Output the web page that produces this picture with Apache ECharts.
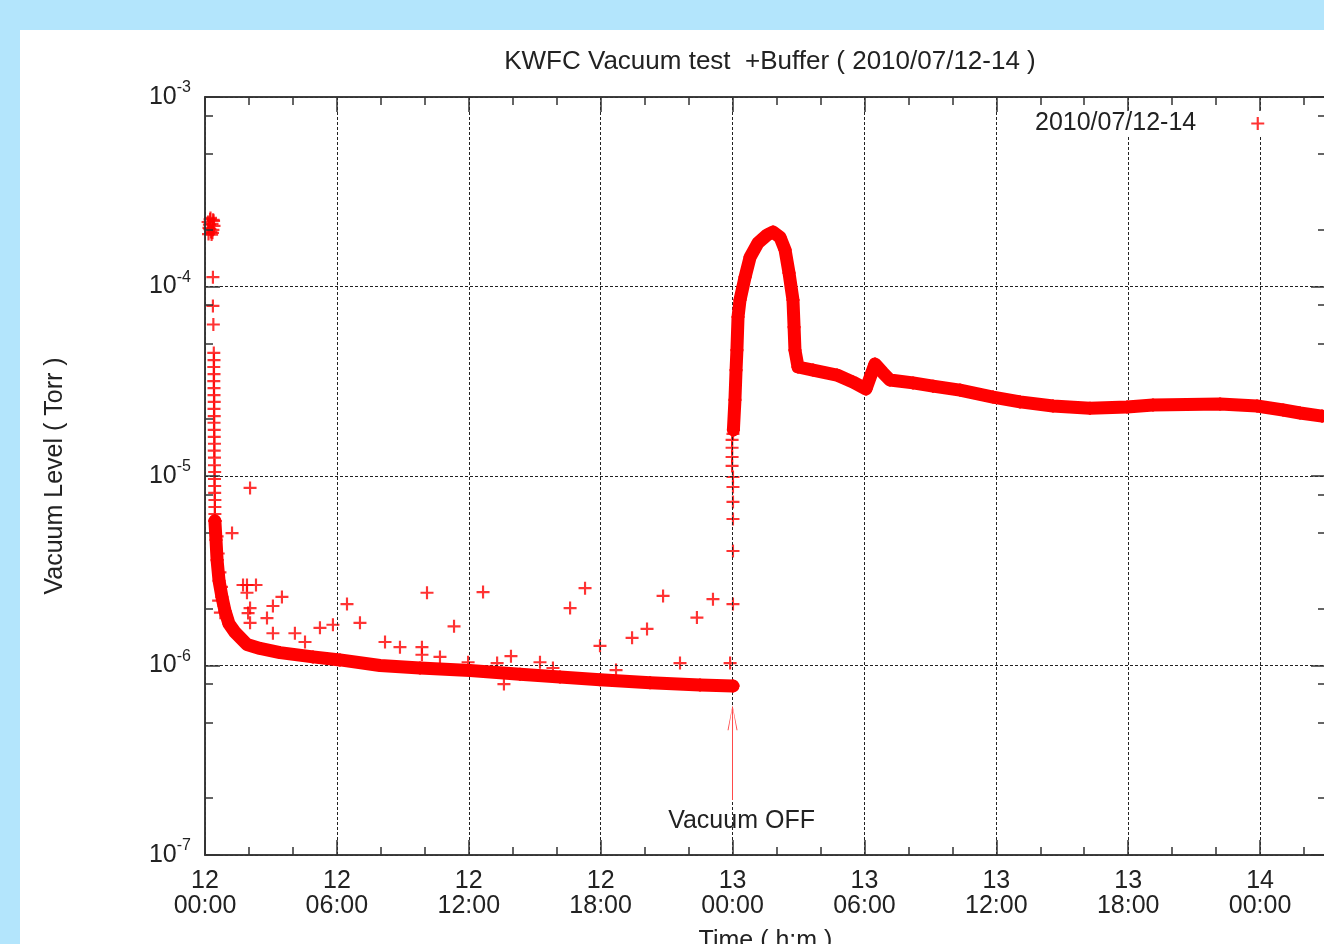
<!DOCTYPE html>
<html>
<head>
<meta charset="utf-8">
<script src="https://cdn.jsdelivr.net/npm/echarts@6.0.0/dist/echarts.min.js"></script>
<style>
html,body{margin:0;padding:0;background:#b3e5fc;}
#c{width:1324px;height:944px;}
</style>
</head>
<body>
<div id="c"></div>
<script>
// ---------- data (time in hours since 2010/07/12 00:00, vacuum in Torr) ----------
const seriesName = '2010/07/12-14';
const xMajorTicks = [0, 6, 12, 18, 24, 30, 36, 42, 48];
const xTickLabels = ['12\n00:00', '12\n06:00', '12\n12:00', '12\n18:00', '13\n00:00', '13\n06:00', '13\n12:00', '13\n18:00', '14\n00:00'];
const xMinorTicks = [2, 4, 8, 10, 14, 16, 20, 22, 26, 28, 32, 34, 38, 40, 44, 46, 50];
const yMajorTicks = [1e-7, 1e-6, 1e-5, 1e-4, 1e-3];
const yTickExponents = ['-7', '-6', '-5', '-4', '-3'];
const yMinorTicks = [2e-7, 5e-7, 8e-7, 2e-6, 5e-6, 8e-6, 2e-5, 5e-5, 8e-5, 2e-4, 5e-4, 8e-4];

// initial cluster and the fast pump-down
const startHours = [0.14, 0.18, 0.23, 0.27, 0.32, 0.36, 0.41, 0.16, 0.25, 0.34, 0.39, 0.20, 0.30, 0.22, 0.37,
  0.36, 0.36, 0.38,
  0.40, 0.41, 0.40, 0.41, 0.40, 0.41, 0.41, 0.42, 0.41, 0.42, 0.41, 0.42, 0.42, 0.43, 0.42, 0.43, 0.43, 0.44, 0.43, 0.44, 0.44, 0.45, 0.45, 0.45, 0.46,
  0.55, 0.60, 0.68, 0.75, 0.62, 0.70];
const startValues = [2.19e-4, 2.04e-4, 2.26e-4, 1.94e-4, 2.14e-4, 1.99e-4, 2.09e-4, 1.89e-4, 2.30e-4, 1.92e-4, 2.22e-4, 2.12e-4, 1.88e-4, 2.01e-4, 2.25e-4,
  1.12e-4, 7.9e-5, 6.3e-5,
  4.46e-5, 4.09e-5, 3.76e-5, 3.45e-5, 3.17e-5, 2.91e-5, 2.67e-5, 2.46e-5, 2.26e-5, 2.07e-5, 1.91e-5, 1.75e-5, 1.61e-5, 1.48e-5, 1.36e-5, 1.25e-5, 1.14e-5, 1.05e-5, 9.64e-6, 8.86e-6, 8.14e-6, 7.47e-6, 6.86e-6, 6.30e-6, 5.79e-6,
  4.8e-6, 3.9e-6, 3.1e-6, 2.6e-6, 2.2e-6, 1.9e-6];

// main band before the pump was switched off
const preHours = [0.45, 0.50, 0.55, 0.64, 0.77, 0.91, 1.09, 1.36, 1.91, 2.50, 3.41, 4.91, 6.14, 7.96, 9.78, 12.06, 14.33, 16.15, 17.97, 20.25, 22.52, 24.02];
const preValues = [5.8e-6, 4.6e-6, 3.6e-6, 2.8e-6, 2.3e-6, 1.94e-6, 1.66e-6, 1.50e-6, 1.29e-6, 1.23e-6, 1.17e-6, 1.11e-6, 1.07e-6, 1.0e-6, 9.7e-7, 9.4e-7, 9.0e-7, 8.7e-7, 8.4e-7, 8.1e-7, 7.9e-7, 7.8e-7];

// scattered readings above / below the band
const outlierHours = [1.23, 2.05, 1.73, 1.91, 2.32, 1.91, 2.05, 3.09, 3.50, 2.82, 2.05, 1.96, 3.09, 4.09, 4.55, 5.23, 5.82, 6.46, 7.05, 8.19, 8.87, 9.87, 9.87, 10.10, 10.69, 11.33, 11.97, 12.65, 13.29, 13.92, 13.60, 15.24, 15.83, 16.61, 17.29, 17.97, 18.70, 19.43, 20.11, 20.84, 21.61, 22.38, 23.11];
const outlierValues = [5.0e-6, 8.65e-6, 2.66e-6, 2.66e-6, 2.66e-6, 2.42e-6, 2.01e-6, 2.06e-6, 2.30e-6, 1.78e-6, 1.68e-6, 1.89e-6, 1.48e-6, 1.48e-6, 1.33e-6, 1.58e-6, 1.64e-6, 2.11e-6, 1.68e-6, 1.33e-6, 1.25e-6, 1.25e-6, 1.14e-6, 2.42e-6, 1.11e-6, 1.61e-6, 1.04e-6, 2.44e-6, 1.03e-6, 1.12e-6, 7.98e-7, 1.04e-6, 9.7e-7, 2.01e-6, 2.56e-6, 1.27e-6, 9.46e-7, 1.40e-6, 1.56e-6, 2.33e-6, 1.03e-6, 1.79e-6, 2.24e-6];

// rise after "Vacuum OFF"
const riseHours = [23.89, 24.02, 24.02, 24.02, 24.02, 24.02, 24.02, 23.98, 23.98, 23.98, 23.98, 24.02];
const riseValues = [1.03e-6, 2.11e-6, 4.02e-6, 5.93e-6, 7.3e-6, 8.75e-6, 9.88e-6, 1.13e-5, 1.26e-5, 1.41e-5, 1.55e-5, 1.67e-5];

// band after the pump was switched off
const postHours = [24.04, 24.11, 24.16, 24.20, 24.25, 24.34, 24.57, 24.80, 25.16, 25.57, 25.84, 26.16, 26.39, 26.57, 26.75, 26.80, 26.84, 26.98, 27.66, 28.75, 29.48, 30.07, 30.48, 30.85, 31.16, 32.21, 33.12, 34.35, 35.85, 37.08, 38.58, 40.26, 41.95, 43.13, 46.18, 47.86, 49.05, 49.82, 50.82];
const postValues = [1.75e-5, 2.52e-5, 3.62e-5, 4.62e-5, 6.90e-5, 8.49e-5, 1.12e-4, 1.43e-4, 1.70e-4, 1.87e-4, 1.94e-4, 1.82e-4, 1.56e-4, 1.18e-4, 8.49e-5, 6.11e-5, 4.62e-5, 3.76e-5, 3.62e-5, 3.41e-5, 3.13e-5, 2.88e-5, 3.90e-5, 3.50e-5, 3.21e-5, 3.10e-5, 2.98e-5, 2.84e-5, 2.61e-5, 2.46e-5, 2.34e-5, 2.28e-5, 2.31e-5, 2.37e-5, 2.40e-5, 2.34e-5, 2.23e-5, 2.15e-5, 2.07e-5];

// annotation: pump switched off at 13 00:00
const vacuumOffHour = 24;
const arrowFrom = 1.95e-7;
const arrowTo = 5.3e-7;

// ---------- styling ----------
const FONT = '"Liberation Sans", Arial, sans-serif';
const TXT = '#222';
const AX = '#333';
const RED = '#ff0000';
const PLUS = 'path://M5,0H7V5H12V7H7V12H5V7H0V5H5Z';
const ARROW = 'path://M5,0L10,24L9,24L5.5,4L5.5,24L4.5,24L4.5,4L1,24L0,24Z';

const pairs = (xs, ys) => xs.map((x, i) => [x, ys[i]]);
const GRID = { left: 205, top: 97, width: 1121, height: 758, containLabel: false, outerBoundsMode: 'none' };

function xAxisCfg(grid, pos, ticks, len, main) {
  return {
    type: 'value', gridIndex: grid, position: pos, min: 0, max: 51, interval: 6,
    z: 3,
    axisLine: { show: true, onZero: false, lineStyle: { color: AX, width: 1.5 } },
    axisTick: { show: true, inside: true, length: len, customValues: ticks, lineStyle: { color: AX, width: 1.5 } },
    axisLabel: main ? {
      show: true, customValues: xMajorTicks, margin: 14,
      formatter: v => { const i = xMajorTicks.indexOf(v); return i >= 0 ? xTickLabels[i] : ''; },
      fontSize: 25, lineHeight: 25, color: TXT, fontFamily: FONT
    } : { show: false },
    splitLine: main ? { show: true, lineStyle: { color: '#222', type: [3, 2], width: 1 } } : { show: false },
    name: main ? 'Time ( h:m )' : '', nameLocation: 'middle', nameGap: 74,
    nameTextStyle: { fontSize: 25, color: TXT, fontFamily: FONT }
  };
}
function yAxisCfg(grid, pos, ticks, len, main) {
  return {
    type: 'log', logBase: 10, gridIndex: grid, position: pos, min: 1e-7, max: 1e-3,
    z: 3,
    axisLine: { show: true, onZero: false, lineStyle: { color: AX, width: 1.5 } },
    axisTick: { show: true, inside: true, length: len, customValues: ticks, lineStyle: { color: AX, width: 1.5 } },
    axisLabel: main ? {
      show: true, customValues: yMajorTicks, margin: 14,
      formatter: v => {
        const i = yMajorTicks.findIndex(t => Math.abs(Math.log10(t) - Math.log10(v)) < 0.01);
        return i >= 0 ? '{b|10}{s|' + yTickExponents[i] + '}' : '';
      },
      rich: {
        b: { fontSize: 25, lineHeight: 34, color: TXT, fontFamily: FONT },
        s: { fontSize: 16, lineHeight: 16, verticalAlign: 'top', color: TXT, fontFamily: FONT }
      }
    } : { show: false },
    splitLine: main ? { show: true, lineStyle: { color: '#222', type: [3, 2], width: 1 } } : { show: false },
    name: main ? 'Vacuum Level ( Torr )' : '', nameLocation: 'middle', nameGap: 137,
    nameTextStyle: { fontSize: 25, color: TXT, fontFamily: FONT }
  };
}

const option = {
  animation: false,
  backgroundColor: '#b3e5fc',
  graphic: [{ type: 'rect', z: -100, shape: { x: 20, y: 30, width: 1304, height: 914 }, style: { fill: '#ffffff' } }],
  title: {
    text: 'KWFC Vacuum test  +Buffer ( 2010/07/12-14 )',
    left: 765, top: 44, textAlign: 'center',
    textStyle: { fontSize: 26, fontWeight: 'normal', color: TXT, fontFamily: FONT }
  },
  legend: {
    left: 1035, top: 111, padding: 0, align: 'right',
    backgroundColor: '#ffffff',
    itemWidth: 13, itemHeight: 13,
    data: [{ name: seriesName, icon: PLUS }],
    formatter: n => '{t|' + n + '}{p|}',
    textStyle: {
      color: TXT, fontSize: 25, fontFamily: FONT,
      rich: { t: { fontSize: 25, lineHeight: 25, color: TXT, fontFamily: FONT }, p: { width: 50 } }
    }
  },
  grid: [GRID, GRID, GRID, GRID],
  xAxis: [
    xAxisCfg(0, 'bottom', xMajorTicks, 15, true),
    xAxisCfg(1, 'top', xMajorTicks, 15, false),
    xAxisCfg(2, 'bottom', xMinorTicks, 8, false),
    xAxisCfg(3, 'top', xMinorTicks, 8, false)
  ],
  yAxis: [
    yAxisCfg(0, 'left', yMajorTicks, 15, true),
    yAxisCfg(1, 'right', yMajorTicks, 15, false),
    yAxisCfg(2, 'left', yMinorTicks, 8, false),
    yAxisCfg(3, 'right', yMinorTicks, 8, false)
  ],
  series: [
    {
      name: seriesName, type: 'scatter', clip: false, symbol: PLUS, symbolSize: 13,
      itemStyle: { color: RED }, data: pairs(startHours, startValues)
    },
    {
      name: seriesName, type: 'line', clip: false, symbol: PLUS, symbolSize: 13, showAllSymbol: true,
      itemStyle: { color: RED }, lineStyle: { color: RED, width: 13, cap: 'round', join: 'round' },
      data: pairs(preHours, preValues)
    },
    {
      name: seriesName, type: 'scatter', clip: false, symbol: PLUS, symbolSize: 13,
      itemStyle: { color: RED }, data: pairs(outlierHours, outlierValues)
    },
    {
      name: seriesName, type: 'scatter', clip: false, symbol: PLUS, symbolSize: 13,
      itemStyle: { color: RED }, data: pairs(riseHours, riseValues),
      markLine: {
        silent: true, animation: false,
        lineStyle: { color: '#ff4a4a', width: 1, type: 'solid' },
        label: {
          show: true, position: 'start', formatter: 'Vacuum OFF', distance: 9,
          color: TXT, fontSize: 25, fontFamily: FONT, padding: [0, 0, 0, 18]
        },
        data: [[
          { coord: [vacuumOffHour, arrowFrom], symbol: 'none' },
          { coord: [vacuumOffHour, arrowTo], symbol: ARROW, symbolSize: [10, 25] }
        ]]
      }
    },
    {
      name: seriesName, type: 'line', clip: false, symbol: PLUS, symbolSize: 13, showAllSymbol: true,
      itemStyle: { color: RED }, lineStyle: { color: RED, width: 13, cap: 'round', join: 'round' },
      data: pairs(postHours, postValues)
    }
  ]
};

const chart = echarts.init(document.getElementById('c'));
chart.setOption(option);
</script>
</body>
</html>
